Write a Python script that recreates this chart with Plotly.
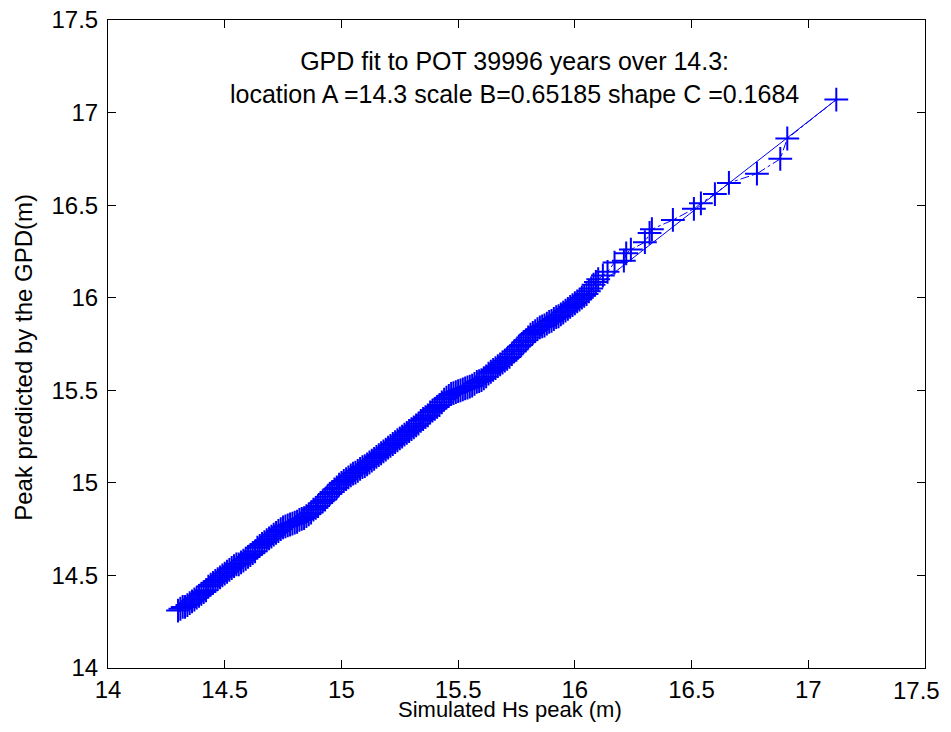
import plotly.graph_objects as go

# Simulated Hs peak (m) (dense body, then the sparse upper tail)
sim_hs = [
    14.30, 14.31, 14.32, 14.33, 14.34, 14.35, 14.36, 14.37, 14.38, 14.39,
    14.40, 14.41, 14.42, 14.43, 14.44, 14.45, 14.46, 14.47, 14.48, 14.49,
    14.50, 14.51, 14.52, 14.53, 14.54, 14.55, 14.56, 14.57, 14.58, 14.59,
    14.60, 14.61, 14.62, 14.63, 14.64, 14.65, 14.66, 14.67, 14.68, 14.69,
    14.70, 14.71, 14.72, 14.73, 14.74, 14.75, 14.76, 14.77, 14.78, 14.79,
    14.80, 14.81, 14.82, 14.83, 14.84, 14.85, 14.86, 14.87, 14.88, 14.89,
    14.90, 14.91, 14.92, 14.93, 14.94, 14.95, 14.96, 14.97, 14.98, 14.99,
    15.00, 15.01, 15.02, 15.03, 15.04, 15.05, 15.06, 15.07, 15.08, 15.09,
    15.10, 15.11, 15.12, 15.13, 15.14, 15.15, 15.16, 15.17, 15.18, 15.19,
    15.20, 15.21, 15.22, 15.23, 15.24, 15.25, 15.26, 15.27, 15.28, 15.29,
    15.30, 15.31, 15.32, 15.33, 15.34, 15.35, 15.36, 15.37, 15.38, 15.39,
    15.40, 15.41, 15.42, 15.43, 15.44, 15.45, 15.46, 15.47, 15.48, 15.49,
    15.50, 15.51, 15.52, 15.53, 15.54, 15.55, 15.56, 15.57, 15.58, 15.59,
    15.60, 15.61, 15.62, 15.63, 15.64, 15.65, 15.66, 15.67, 15.68, 15.69,
    15.70, 15.71, 15.72, 15.73, 15.74, 15.75, 15.76, 15.77, 15.78, 15.79,
    15.80, 15.81, 15.82, 15.83, 15.84, 15.85, 15.86, 15.87, 15.88, 15.89,
    15.90, 15.91, 15.92, 15.93, 15.94, 15.95, 15.96, 15.97, 15.98, 15.99,
    16.00, 16.01, 16.02, 16.03, 16.04, 16.05, 16.06, 16.07, 16.08, 16.09,
    16.10, 16.12, 16.14, 16.17, 16.21, 16.22, 16.24, 16.30, 16.32, 16.33,
    16.42, 16.51, 16.54, 16.60, 16.66, 16.78, 16.88, 16.91, 17.12,
]
# Peak predicted by the GPD (m)
gpd_peak = [
    14.31, 14.32, 14.33, 14.33, 14.34, 14.35, 14.36, 14.37, 14.38, 14.39,
    14.40, 14.41, 14.42, 14.44, 14.45, 14.46, 14.47, 14.48, 14.49, 14.50,
    14.51, 14.52, 14.53, 14.54, 14.55, 14.56, 14.56, 14.57, 14.58, 14.59,
    14.60, 14.61, 14.62, 14.63, 14.65, 14.66, 14.67, 14.68, 14.69, 14.70,
    14.71, 14.72, 14.73, 14.74, 14.75, 14.76, 14.765, 14.77, 14.775, 14.78,
    14.785, 14.79, 14.80, 14.805, 14.81, 14.82, 14.83, 14.84, 14.855, 14.865,
    14.875, 14.89, 14.90, 14.91, 14.925, 14.94, 14.95, 14.965, 14.975, 14.99,
    15.00, 15.01, 15.02, 15.03, 15.04, 15.05, 15.055, 15.065, 15.075, 15.085,
    15.09, 15.10, 15.11, 15.12, 15.13, 15.14, 15.15, 15.16, 15.17, 15.18,
    15.19, 15.20, 15.21, 15.22, 15.23, 15.24, 15.25, 15.26, 15.27, 15.28,
    15.29, 15.30, 15.31, 15.32, 15.335, 15.345, 15.355, 15.365, 15.38, 15.39,
    15.40, 15.41, 15.42, 15.435, 15.45, 15.46, 15.47, 15.48, 15.485, 15.49,
    15.495, 15.50, 15.505, 15.51, 15.515, 15.52, 15.525, 15.535, 15.545, 15.55,
    15.555, 15.565, 15.575, 15.59, 15.60, 15.61, 15.62, 15.63, 15.64, 15.65,
    15.66, 15.67, 15.68, 15.695, 15.71, 15.72, 15.735, 15.745, 15.76, 15.77,
    15.785, 15.80, 15.81, 15.82, 15.83, 15.84, 15.845, 15.85, 15.86, 15.87,
    15.875, 15.885, 15.895, 15.90, 15.91, 15.92, 15.93, 15.94, 15.95, 15.96,
    15.97, 15.98, 15.99, 16.00, 16.01, 16.02, 16.035, 16.05, 16.07, 16.085,
    16.10, 16.12, 16.14, 16.19, 16.20, 16.24, 16.26, 16.30, 16.35, 16.37,
    16.42, 16.48, 16.51, 16.56, 16.62, 16.67, 16.75, 16.86, 17.07,
]

# straight line through the first and last points
line_x = [14.30, 17.12]
line_y = [14.30, 17.07]

ticks = [14, 14.5, 15, 15.5, 16, 16.5, 17, 17.5]
tick_labels = ["14", "14.5", "15", "15.5", "16", "16.5", "17", "17.5"]

FONT = "Arial, Liberation Sans, sans-serif"
BLUE = "rgb(0,0,255)"
TICK_SIZE = 24

fig = go.Figure()
fig.add_trace(go.Scatter(
    x=line_x, y=line_y, mode="lines",
    line=dict(color=BLUE, width=1),
    hoverinfo="skip", showlegend=False,
))
fig.add_trace(go.Scatter(
    x=sim_hs, y=gpd_peak, mode="lines+markers",
    line=dict(color=BLUE, width=1, dash="dashdot"),
    marker=dict(symbol="cross-thin", size=17, line=dict(color=BLUE, width=2)),
    showlegend=False,
    hovertemplate="Sim: %{x}<br>GPD: %{y}<extra></extra>",
))

axis_style = dict(
    range=[14, 17.5], tickvals=ticks, ticks="inside", ticklen=8,
    tickcolor="black", showline=True, linecolor="black", linewidth=1,
    mirror="allticks", showgrid=False, zeroline=False, automargin=False,
    ticklabeloverflow="allow",
    tickfont=dict(family=FONT, size=TICK_SIZE, color="black"),
)
# last x label sits right at the window edge, so it is drawn as an annotation
fig.update_xaxes(**axis_style, ticktext=tick_labels[:-1] + [""], ticklabelstandoff=0)
fig.update_yaxes(**axis_style, ticktext=tick_labels, ticklabelstandoff=4)

# the page body has an 8px margin on every side, so the figure is kept
# inside the window to avoid scrollbars
fig.update_layout(
    width=935, height=716,
    margin=dict(l=100, r=18, t=12, b=56),
    paper_bgcolor="white", plot_bgcolor="white",
    font=dict(family=FONT, color="black"),
    annotations=[
        dict(text="GPD fit to POT 39996 years over 14.3:<br>"
                  "location A =14.3 scale B=0.65185 shape C =0.1684",
             x=15.74, y=17.19, xref="x", yref="y", showarrow=False,
             font=dict(size=25, family=FONT), align="center"),
        dict(text=tick_labels[-1], x=1.021, y=-0.034,
             xref="paper", yref="paper", showarrow=False,
             xanchor="right", yanchor="middle",
             font=dict(size=TICK_SIZE, family=FONT)),
        dict(text="Simulated Hs peak (m)", x=0.492, y=-0.0633,
             xref="paper", yref="paper", showarrow=False,
             xanchor="center", yanchor="middle",
             font=dict(size=22, family=FONT)),
        dict(text="Peak predicted by the GPD(m)", x=-0.103, y=0.48,
             xref="paper", yref="paper", showarrow=False, textangle=-90,
             xanchor="center", yanchor="middle",
             font=dict(size=24, family=FONT)),
    ],
)

fig.write_html("out.html")
